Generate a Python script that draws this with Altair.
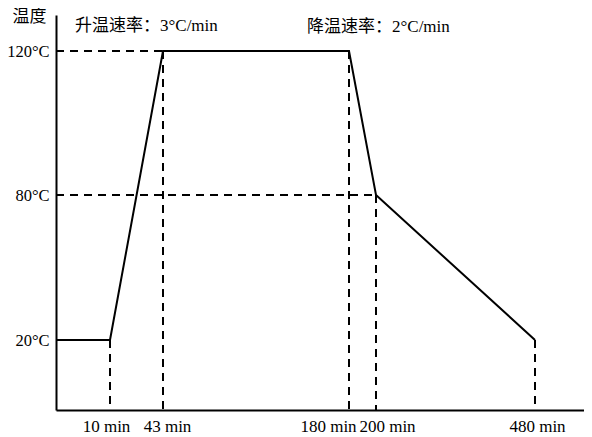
import altair as alt
import pandas as pd

# ---- data ----
time_min = [0, 10, 43, 180, 200, 480]
temp_c = [20, 20, 120, 120, 80, 20]
vguide_time = [10, 43, 180, 200, 480]
vguide_temp = [20, 120, 120, 80, 20]
hguide_temp = [120, 80]
hguide_end = [43, 200]
x_ticks = [10, 43, 180, 200, 480]
y_ticks = [20, 80, 120]
y_title = "温度"
note_heat = "升温速率：3°C/min"
note_cool = "降温速率：2°C/min"

FONT = "Liberation Serif, Times New Roman, Noto Sans CJK SC"

profile = pd.DataFrame({"t": time_min, "temp": temp_c})
vguides = pd.DataFrame({"t": vguide_time, "temp": vguide_temp, "base": [0] * len(vguide_time)})
hguides = pd.DataFrame({"temp": hguide_temp, "t0": [0] * len(hguide_temp), "t1": hguide_end})

x_scale = alt.Scale(domain=[0, 10, 43, 180, 200, 480, 500],
                    range=[0, 54, 107, 293, 320, 479, 528], nice=False, zero=False)
y_scale = alt.Scale(domain=[0, 20, 80, 120, 137],
                    range=[395, 325, 180, 36, 0], nice=False, zero=False)

x_axis = alt.Axis(values=x_ticks, labelExpr="datum.value + ' min'", ticks=False,
                  grid=False, title=None, domainColor="black", domainWidth=2,
                  labelPadding=8, labelFontSize=17, labelFont=FONT, labelColor="black",
                  labelOverlap=False, labelFlush=False,
                  labelOffset={"condition": [
                      {"test": "datum.value == 10", "value": -4},
                      {"test": "datum.value == 43", "value": 4},
                      {"test": "datum.value == 180", "value": -21},
                      {"test": "datum.value == 200", "value": 11},
                      {"test": "datum.value == 480", "value": 2}], "value": 0})
y_axis = alt.Axis(values=y_ticks, labelExpr="datum.value + '°C'", ticks=False,
                  grid=False, title=y_title, titleAngle=0, titleX=-27, titleY=1,
                  titleAlign="center", titleBaseline="middle", titleFont=FONT,
                  titleFontSize=17, titleFontWeight="normal", titleColor="black",
                  domainColor="black", domainWidth=2, labelPadding=7,
                  labelFontSize=16.5, labelFont=FONT, labelColor="black",
                  labelOverlap=False, labelFlush=False)

line = alt.Chart(profile).mark_line(color="black", strokeWidth=2).encode(
    x=alt.X("t:Q", scale=x_scale, axis=x_axis),
    y=alt.Y("temp:Q", scale=y_scale, axis=y_axis),
)

vrules = alt.Chart(vguides).mark_rule(color="black", strokeWidth=2, strokeDash=[8, 6]).encode(
    x=alt.X("t:Q", scale=x_scale, axis=x_axis),
    y=alt.Y("temp:Q", scale=y_scale, axis=y_axis),
    y2="base:Q",
)

hrules = alt.Chart(hguides).mark_rule(color="black", strokeWidth=2, strokeDash=[8, 6]).encode(
    y=alt.Y("temp:Q", scale=y_scale, axis=y_axis),
    x=alt.X("t0:Q", scale=x_scale, axis=x_axis),
    x2="t1:Q",
)

heat = alt.Chart(pd.DataFrame({"label": [note_heat]})).mark_text(
    font=FONT, fontSize=17, color="black", align="left", baseline="middle"
).encode(text="label:N", x=alt.value(19), y=alt.value(11))

cool = alt.Chart(pd.DataFrame({"label": [note_cool]})).mark_text(
    font=FONT, fontSize=17, color="black", align="left", baseline="middle"
).encode(text="label:N", x=alt.value(251), y=alt.value(12))

chart = alt.layer(hrules, vrules, line, heat, cool).properties(
    width=528, height=395,
    autosize=alt.AutoSizeParams(type="none"),
    padding={"left": 48, "top": 7, "right": 0, "bottom": 27},
    background="white",
).configure_view(stroke=None)

chart.save("out.html", embed_options={"renderer": "svg", "actions": False})
